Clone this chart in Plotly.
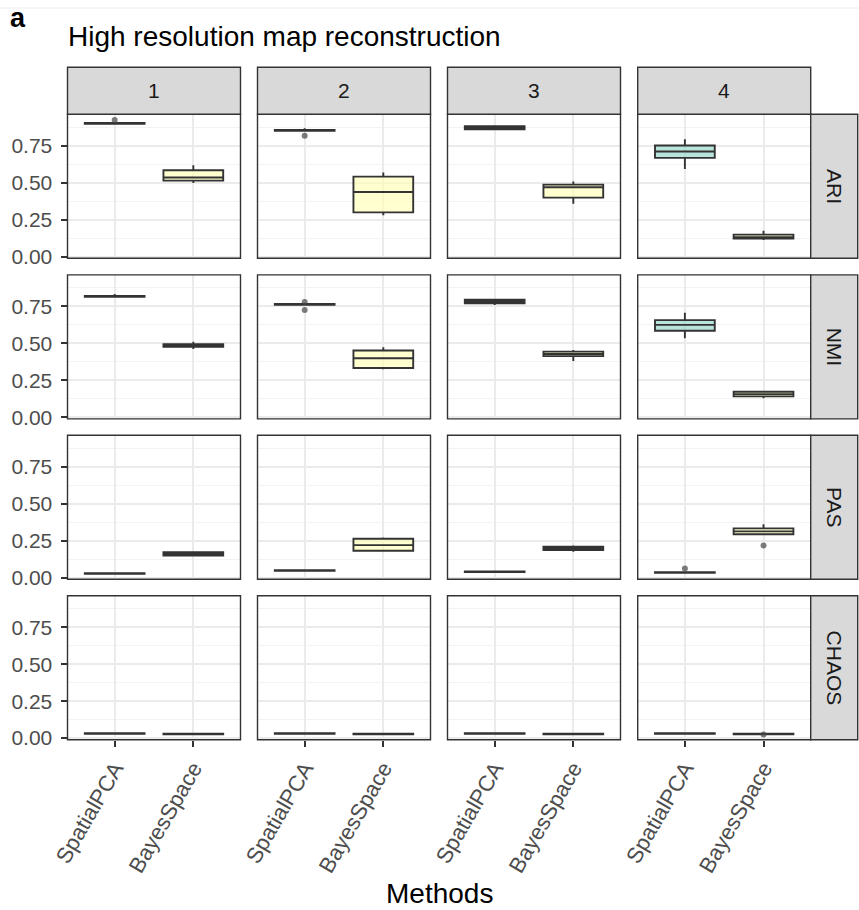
import plotly.graph_objects as go

# ---- data -----------------------------------------------------------------
metrics = ["ARI", "NMI", "PAS", "CHAOS"]
scenarios = ["1", "2", "3", "4"]
methods = ["SpatialPCA", "BayesSpace"]

# box statistics per metric (rows) and scenario (columns): lower fence, q1, median, q3, upper fence
spca_lo = [[0.897, 0.850, 0.858, 0.593],
           [0.814, 0.758, 0.759, 0.535],
           [0.025, 0.045, 0.036, 0.031],
           [0.028, 0.028, 0.028, 0.028]]
spca_q1 = [[0.898, 0.851, 0.862, 0.668],
           [0.815, 0.760, 0.771, 0.585],
           [0.026, 0.046, 0.037, 0.032],
           [0.029, 0.029, 0.029, 0.029]]
spca_med = [[0.901, 0.854, 0.872, 0.711],
            [0.818, 0.763, 0.784, 0.625],
            [0.028, 0.048, 0.039, 0.034],
            [0.031, 0.031, 0.031, 0.031]]
spca_q3 = [[0.904, 0.857, 0.882, 0.752],
           [0.821, 0.766, 0.796, 0.657],
           [0.030, 0.050, 0.041, 0.036],
           [0.033, 0.033, 0.033, 0.033]]
spca_hi = [[0.905, 0.868, 0.885, 0.795],
           [0.834, 0.770, 0.798, 0.707],
           [0.031, 0.051, 0.042, 0.038],
           [0.034, 0.034, 0.034, 0.034]]

bs_lo = [[0.498, 0.279, 0.358, 0.113],
         [0.462, 0.324, 0.381, 0.129],
         [0.148, 0.175, 0.175, 0.290],
         [0.025, 0.025, 0.025, 0.025]]
bs_q1 = [[0.514, 0.299, 0.399, 0.122],
         [0.476, 0.333, 0.413, 0.141],
         [0.150, 0.182, 0.186, 0.293],
         [0.026, 0.026, 0.026, 0.026]]
bs_med = [[0.535, 0.437, 0.469, 0.131],
          [0.485, 0.399, 0.428, 0.156],
          [0.161, 0.220, 0.197, 0.313],
          [0.028, 0.028, 0.028, 0.028]]
bs_q3 = [[0.584, 0.541, 0.487, 0.149],
         [0.494, 0.451, 0.444, 0.172],
         [0.172, 0.263, 0.209, 0.333],
         [0.030, 0.030, 0.030, 0.030]]
bs_hi = [[0.618, 0.569, 0.509, 0.175],
         [0.510, 0.474, 0.455, 0.176],
         [0.175, 0.272, 0.218, 0.361],
         [0.031, 0.031, 0.031, 0.031]]

# outlying points: (metric, scenario, method, value)
outlier_metric = ["ARI", "ARI", "NMI", "NMI", "PAS", "PAS", "CHAOS"]
outlier_scenario = ["1", "2", "2", "2", "4", "4", "4"]
outlier_method = ["SpatialPCA", "SpatialPCA", "SpatialPCA", "SpatialPCA",
                  "SpatialPCA", "BayesSpace", "BayesSpace"]
outlier_value = [0.924, 0.817, 0.780, 0.725, 0.061, 0.218, 0.024]

y_ticks = [0.0, 0.25, 0.5, 0.75]
y_tick_labels = ["0.00", "0.25", "0.50", "0.75"]

# ---- geometry (pixels) ----------------------------------------------------
W, H = 859, 910
col_x0 = [67.5, 257.5, 447.5, 637.7]
col_w = 173.0
row_y0 = [114.3, 274.9, 435.3, 595.8]
row_h = 144.0
strip_top = 67.3
strip_right = 857.7

FONT = "Liberation Sans, Arial, Helvetica, sans-serif"
fill_spca = "rgba(141,211,199,0.62)"
fill_bs = "rgba(255,255,179,0.62)"
edge = "#333333"


def px(x):
    return x / W


def py(y):
    return 1 - y / H


fig = go.Figure()
layout = {}
shapes = []
annotations = []

for i, metric in enumerate(metrics):
    for j, scen in enumerate(scenarios):
        k = i * 4 + j + 1
        xname = "xaxis" if k == 1 else f"xaxis{k}"
        yname = "yaxis" if k == 1 else f"yaxis{k}"
        xref = "x" if k == 1 else f"x{k}"
        yref = "y" if k == 1 else f"y{k}"
        x0, x1 = col_x0[j], col_x0[j] + col_w
        y0, y1 = row_y0[i], row_y0[i] + row_h

        stats = [
            ("SpatialPCA", fill_spca, spca_lo, spca_q1, spca_med, spca_q3, spca_hi),
            ("BayesSpace", fill_bs, bs_lo, bs_q1, bs_med, bs_q3, bs_hi),
        ]
        for name, fill, lo, q1, med, q3, hi in stats:
            fig.add_trace(go.Box(
                x=[name],
                lowerfence=[lo[i][j]], q1=[q1[i][j]], median=[med[i][j]],
                q3=[q3[i][j]], upperfence=[hi[i][j]],
                boxpoints=False, width=0.76, whiskerwidth=0,
                fillcolor=fill, line=dict(color=edge, width=1.9),
                xaxis=xref, yaxis=yref, showlegend=False, hoverinfo="skip",
            ))

        ox = [m for mt, sc, m, v in zip(outlier_metric, outlier_scenario, outlier_method, outlier_value)
              if mt == metric and sc == scen]
        oy = [v for mt, sc, m, v in zip(outlier_metric, outlier_scenario, outlier_method, outlier_value)
              if mt == metric and sc == scen]
        if ox:
            fig.add_trace(go.Scatter(
                x=ox, y=oy, mode="markers",
                marker=dict(color="rgba(70,70,70,0.7)", size=6),
                xaxis=xref, yaxis=yref, showlegend=False, hoverinfo="skip",
            ))

        bottom = i == len(metrics) - 1
        left = j == 0
        layout[xname] = dict(
            domain=[px(x0), px(x1)], anchor=yref, automargin=False,
            type="category", categoryorder="array", categoryarray=methods,
            range=[-0.6, 1.6],
            showgrid=True, gridcolor="#EBEBEB", gridwidth=2,
            zeroline=False, showline=False,
            showticklabels=bottom, ticks="outside" if bottom else "",
            ticklen=6, tickwidth=2, tickcolor=edge, tickangle=-60,
            tickfont=dict(family=FONT, size=22, color="#4D4D4D"),
        )
        layout[yname] = dict(
            domain=[py(y1), py(y0)], anchor=xref, automargin=False,
            range=[-0.0115, 0.963],
            tickvals=y_ticks, ticktext=y_tick_labels,
            showgrid=True, gridcolor="#EBEBEB", gridwidth=2,
            minor=dict(tickvals=[0.125, 0.375, 0.625, 0.875], showgrid=True,
                       gridcolor="#F3F3F3", gridwidth=1, ticks=""),
            zeroline=False, showline=False,
            showticklabels=left, ticks="outside" if left else "",
            ticklen=6, tickwidth=2, tickcolor=edge, ticklabelstandoff=4,
            tickfont=dict(family=FONT, size=21, color="#4D4D4D"),
        )

        # panel border
        shapes.append(dict(type="rect", xref="paper", yref="paper",
                           x0=px(x0), x1=px(x1), y0=py(y1), y1=py(y0),
                           line=dict(color=edge, width=1.4), layer="above"))

# facet strips along the top (scenario)
for j, scen in enumerate(scenarios):
    x0, x1 = col_x0[j], col_x0[j] + col_w
    shapes.append(dict(type="rect", xref="paper", yref="paper",
                       x0=px(x0), x1=px(x1), y0=py(row_y0[0]), y1=py(strip_top),
                       fillcolor="#D9D9D9", line=dict(color=edge, width=1.4), layer="above"))
    annotations.append(dict(text=scen, xref="paper", yref="paper",
                            x=px((x0 + x1) / 2), y=py((strip_top + row_y0[0]) / 2),
                            showarrow=False, xanchor="center", yanchor="middle",
                            font=dict(family=FONT, size=21, color="#1A1A1A")))

# facet strips along the right (metric)
sx0 = col_x0[-1] + col_w
for i, metric in enumerate(metrics):
    y0, y1 = row_y0[i], row_y0[i] + row_h
    shapes.append(dict(type="rect", xref="paper", yref="paper",
                       x0=px(sx0), x1=px(strip_right), y0=py(y1), y1=py(y0),
                       fillcolor="#D9D9D9", line=dict(color=edge, width=1.4), layer="above"))
    annotations.append(dict(text=metric, xref="paper", yref="paper",
                            x=px((sx0 + strip_right) / 2), y=py((y0 + y1) / 2),
                            showarrow=False, xanchor="center", yanchor="middle",
                            textangle=90,
                            font=dict(family=FONT, size=21, color="#1A1A1A")))

# faint rule at the very top
shapes.append(dict(type="line", xref="paper", yref="paper",
                   x0=0, x1=1, y0=py(8), y1=py(8),
                   line=dict(color="#EEEEEE", width=1)))

annotations.append(dict(text="<b>a</b>", xref="paper", yref="paper",
                        x=px(8), y=py(18), xanchor="left", yanchor="middle",
                        showarrow=False, font=dict(family=FONT, size=27, color="black")))
annotations.append(dict(text="High resolution map reconstruction", xref="paper", yref="paper",
                        x=px(66), y=py(37), xanchor="left", yanchor="middle",
                        showarrow=False, font=dict(family=FONT, size=28, color="black")))
annotations.append(dict(text="Methods", xref="paper", yref="paper",
                        x=px((col_x0[0] + col_x0[-1] + col_w) / 2), y=py(893),
                        xanchor="center", yanchor="middle",
                        showarrow=False, font=dict(family=FONT, size=28, color="black")))

fig.update_layout(
    width=W, height=H,
    margin=dict(l=0, r=0, t=0, b=0),
    paper_bgcolor="white", plot_bgcolor="white",
    boxmode="overlay",
    shapes=shapes, annotations=annotations,
    **layout,
)

fig.write_html("out.html")
